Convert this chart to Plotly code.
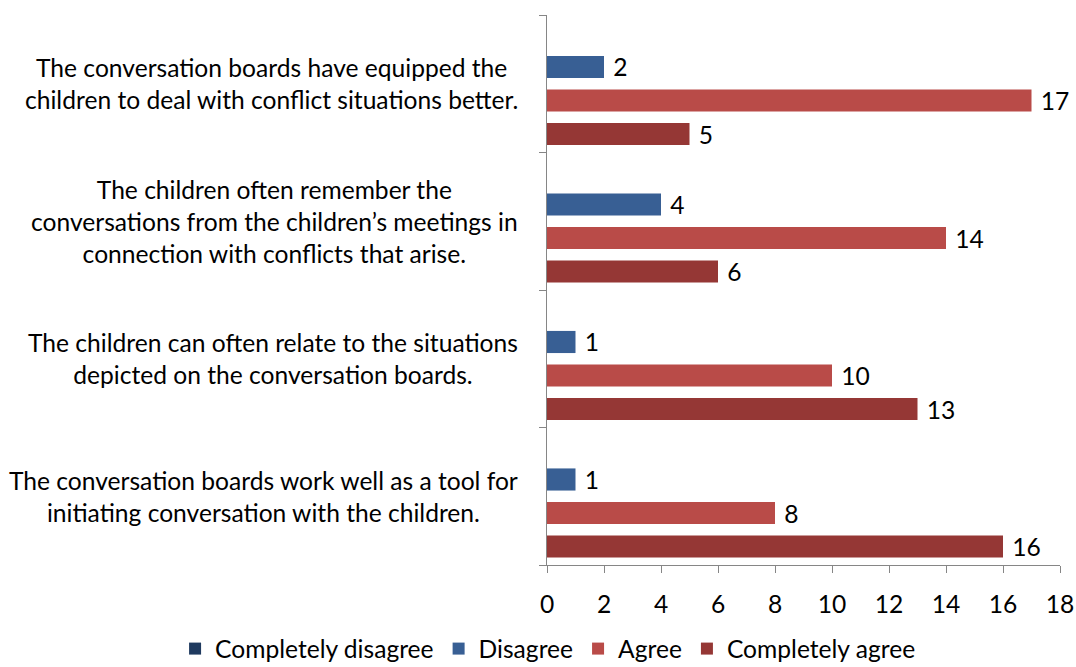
import plotly.graph_objects as go

# Survey statements, listed from the bottom of the chart upwards
statements = [
    "The conversation boards work well as a tool for<br>initiating conversation with the children.",
    "The children can often relate to the situations<br>depicted on the conversation boards.",
    "The children often remember the<br>conversations from the children’s meetings in<br>connection with conflicts that arise.",
    "The conversation boards have equipped the<br>children to deal with conflict situations better.",
]

completely_disagree = [0, 0, 0, 0]
disagree = [1, 1, 4, 2]
agree = [8, 10, 14, 17]
completely_agree = [16, 13, 6, 5]

x_ticks = [0, 2, 4, 6, 8, 10, 12, 14, 16, 18]

FONT = "Lato, 'Open Sans', sans-serif"
FS = 24.6

series = [
    ("Completely agree", completely_agree, "#953735"),
    ("Agree", agree, "#B94B48"),
    ("Disagree", disagree, "#385F94"),
    ("Completely disagree", completely_disagree, "#1F3A5F"),
]

fig = go.Figure()
for name, vals, color in series:
    fig.add_trace(go.Bar(
        name=name,
        y=statements,
        x=vals,
        orientation="h",
        marker=dict(color=color, line=dict(width=0)),
        text=[f" {v}" if v else "" for v in vals],
        textposition="outside",
        textfont=dict(family=FONT, size=FS, color="#000000"),
        constraintext="none",
        cliponaxis=False,
        hoverinfo="x+name",
    ))

# Category labels drawn as centred multi-line blocks beside the axis
for s in statements:
    fig.add_annotation(
        x=-0.052, xref="paper", y=s, yref="y",
        text=s, showarrow=False,
        xanchor="right", yanchor="middle", align="center",
        font=dict(family=FONT, size=FS, color="#000000"),
    )

fig.update_layout(
    width=1076, height=667,
    margin=dict(l=547, r=16, t=15, b=102, autoexpand=False),
    barmode="group",
    bargap=0.025,
    bargroupgap=0.34,
    paper_bgcolor="#FFFFFF",
    plot_bgcolor="#FFFFFF",
    font=dict(family=FONT, size=FS, color="#000000"),
    showlegend=True,
    legend=dict(
        orientation="h",
        traceorder="reversed",
        x=-0.725, xanchor="left",
        y=-0.152, yanchor="middle",
        font=dict(family=FONT, size=FS, color="#000000"),
        itemwidth=30,
        tracegroupgap=0,
    ),
)

fig.update_xaxes(
    range=[0, 18],
    tickvals=x_ticks,
    ticktext=[str(t) for t in x_ticks],
    showgrid=False,
    zeroline=False,
    showline=True, linecolor="#868686", linewidth=1,
    ticks="outside", ticklen=7, tickcolor="#868686", tickwidth=1,
    ticklabelstandoff=10,
    tickfont=dict(family=FONT, size=FS, color="#000000"),
    fixedrange=True,
)
fig.update_yaxes(
    type="category",
    categoryorder="array", categoryarray=statements,
    range=[-0.5, 3.5],
    showticklabels=False,
    showgrid=False,
    zeroline=False,
    showline=True, linecolor="#868686", linewidth=1,
    ticks="outside", ticklen=7, tickcolor="#868686", tickwidth=1,
    tickson="boundaries",
    fixedrange=True,
)

fig.write_html("out.html")
